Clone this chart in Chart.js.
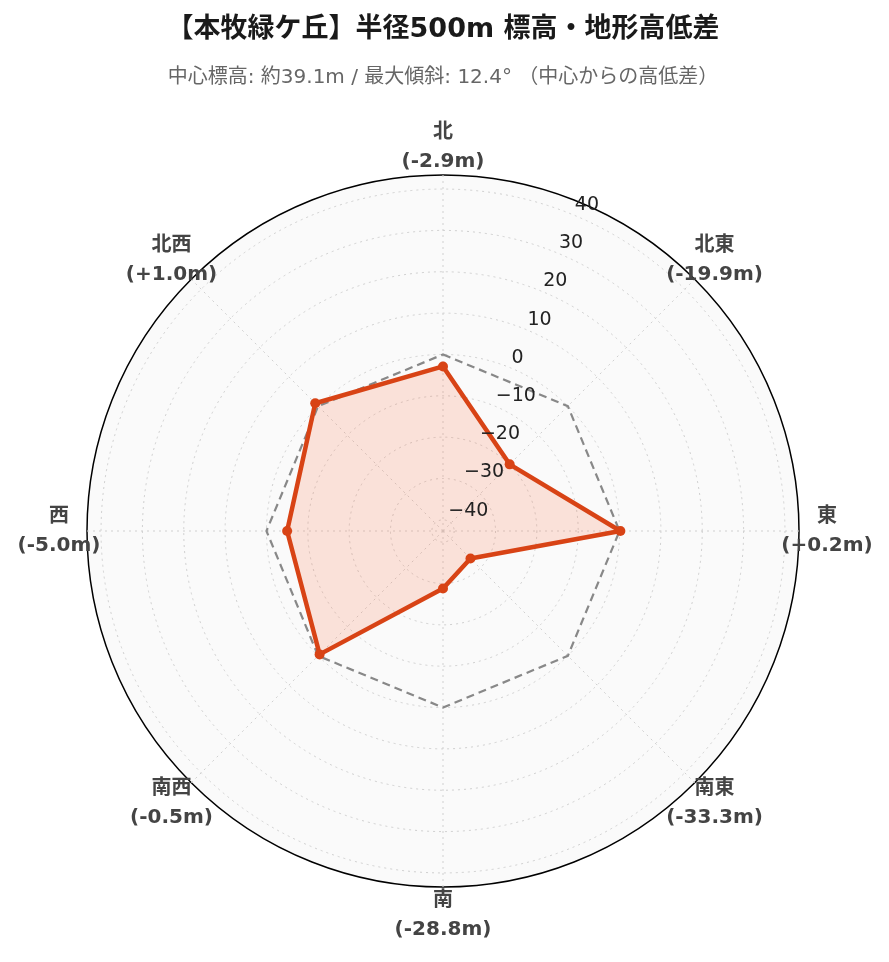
<!DOCTYPE html>
<html lang="ja">
<head>
    <meta charset="UTF-8">
    <title>本牧緑ケ丘 半径500m 標高・地形高低差</title>
    <script src="https://cdn.jsdelivr.net/npm/chart.js"></script>
    <style>
        html, body {
            margin: 0;
            padding: 0;
            background: #ffffff;
        }
        #wrap {
            width: 889px;
            height: 962px;
        }
    </style>
</head>
<body>

<div id="wrap"><canvas id="elevChart"></canvas></div>

<script>
    // 8 directions, clockwise from north
    const directions = ["北", "北東", "東", "南東", "南", "南西", "西", "北西"];
    // elevation difference from the centre point (m)
    const elevDiff = [-2.9, -19.9, 0.2, -33.3, -28.8, -0.5, -5.0, 1.0];
    // reference ring: same height as centre
    const baseline = [0, 0, 0, 0, 0, 0, 0, 0];
    // radial tick labels
    const tickValues = [-40, -30, -20, -10, 0, 10, 20, 30, 40];
    const radialMin = -42.7;
    const radialMax = 43.4;

    const labelFont = "bold 20px 'DejaVu Sans', 'Noto Sans CJK JP', sans-serif";
    const tickFont = "19px 'DejaVu Sans', 'Noto Sans CJK JP', sans-serif";

    function fmtDiff(v) {
        return (v > 0 ? "+" : "") + v.toFixed(1) + "m";
    }

    // light grey disc behind the polar grid
    const polarBackground = {
        id: "polarBackground",
        beforeDraw(chart) {
            const s = chart.scales.r;
            const ctx = chart.ctx;
            ctx.save();
            ctx.fillStyle = "#fafafa";
            ctx.beginPath();
            ctx.arc(s.xCenter, s.yCenter, s.drawingArea, 0, Math.PI * 2);
            ctx.fill();
            ctx.restore();
        }
    };

    // radial tick labels along the 22.5° spoke
    const radialTicks = {
        id: "radialTicks",
        afterDatasetsDraw(chart) {
            const s = chart.scales.r;
            const ctx = chart.ctx;
            const a = 22.5 * Math.PI / 180;
            ctx.save();
            ctx.font = tickFont;
            ctx.fillStyle = "#222";
            ctx.textAlign = "left";
            ctx.textBaseline = "middle";
            tickValues.forEach(v => {
                const d = s.getDistanceFromCenterForValue(v);
                const x = s.xCenter + d * Math.sin(a);
                const y = s.yCenter - d * Math.cos(a);
                const txt = v < 0 ? "\u2212" + Math.abs(v) : String(v);
                ctx.fillText(txt, x + 1, y - 10);
            });
            ctx.restore();
        }
    };

    // two-line direction labels, centred, outside the ring
    const directionLabels = {
        id: "directionLabels",
        afterDraw(chart) {
            const s = chart.scales.r;
            const ctx = chart.ctx;
            ctx.save();
            ctx.font = labelFont;
            ctx.fillStyle = "#444";
            ctx.textAlign = "center";
            ctx.textBaseline = "middle";
            directions.forEach((name, i) => {
                const p = s.getPointPosition(i, s.drawingArea + 28);
                ctx.fillText(name, p.x, p.y - 14);
                ctx.fillText("(" + fmtDiff(elevDiff[i]) + ")", p.x, p.y + 15);
            });
            ctx.restore();
        }
    };

    const isOuter = c => c.tick && c.tick.value >= radialMax - 1e-6;

    const ctx = document.getElementById("elevChart").getContext("2d");
    new Chart(ctx, {
        type: "radar",
        data: {
            labels: directions,
            datasets: [
                {
                    label: "高低差",
                    data: elevDiff,
                    borderColor: "#d84315",
                    backgroundColor: "rgba(255, 87, 34, 0.15)",
                    borderWidth: 4.5,
                    borderJoinStyle: "round",
                    fill: "start",
                    pointRadius: 5,
                    pointBackgroundColor: "#d84315",
                    pointBorderWidth: 0
                },
                {
                    label: "中心標高",
                    data: baseline,
                    borderColor: "#888888",
                    borderWidth: 2.2,
                    borderDash: [8, 5],
                    fill: false,
                    pointRadius: 0
                }
            ]
        },
        options: {
            responsive: true,
            maintainAspectRatio: false,
            animation: false,
            layout: {
                padding: { left: 87, right: 90, top: 0, bottom: 75 }
            },
            scales: {
                r: {
                    min: radialMin,
                    max: radialMax,
                    ticks: { display: false, stepSize: 10 },
                    pointLabels: { display: false },
                    grid: {
                        circular: true,
                        color: c => isOuter(c) ? "#000000" : "#d0d0d0",
                        lineWidth: c => isOuter(c) ? 1.5 : 1
                    },
                    border: {
                        dash: c => isOuter(c) ? [] : [2, 4]
                    },
                    angleLines: {
                        color: "#d0d0d0",
                        lineWidth: 1,
                        borderDash: [2, 4]
                    }
                }
            },
            plugins: {
                legend: { display: false },
                tooltip: { enabled: false },
                filler: { drawTime: "beforeDatasetsDraw" },
                title: {
                    display: true,
                    text: "【本牧緑ケ丘】半径500m 標高・地形高低差",
                    color: "#1a1a1a",
                    font: { family: "'DejaVu Sans', 'Noto Sans CJK JP', sans-serif", size: 27, weight: "bold" },
                    padding: { top: 13.8, bottom: 0 }
                },
                subtitle: {
                    display: true,
                    text: "中心標高: 約39.1m / 最大傾斜: 12.4° （中心からの高低差）",
                    color: "#666666",
                    font: { family: "'DejaVu Sans', 'Noto Sans CJK JP', sans-serif", size: 20 },
                    padding: { top: 19.8, bottom: 85 }
                }
            }
        },
        plugins: [polarBackground, radialTicks, directionLabels]
    });
</script>

</body>
</html>
